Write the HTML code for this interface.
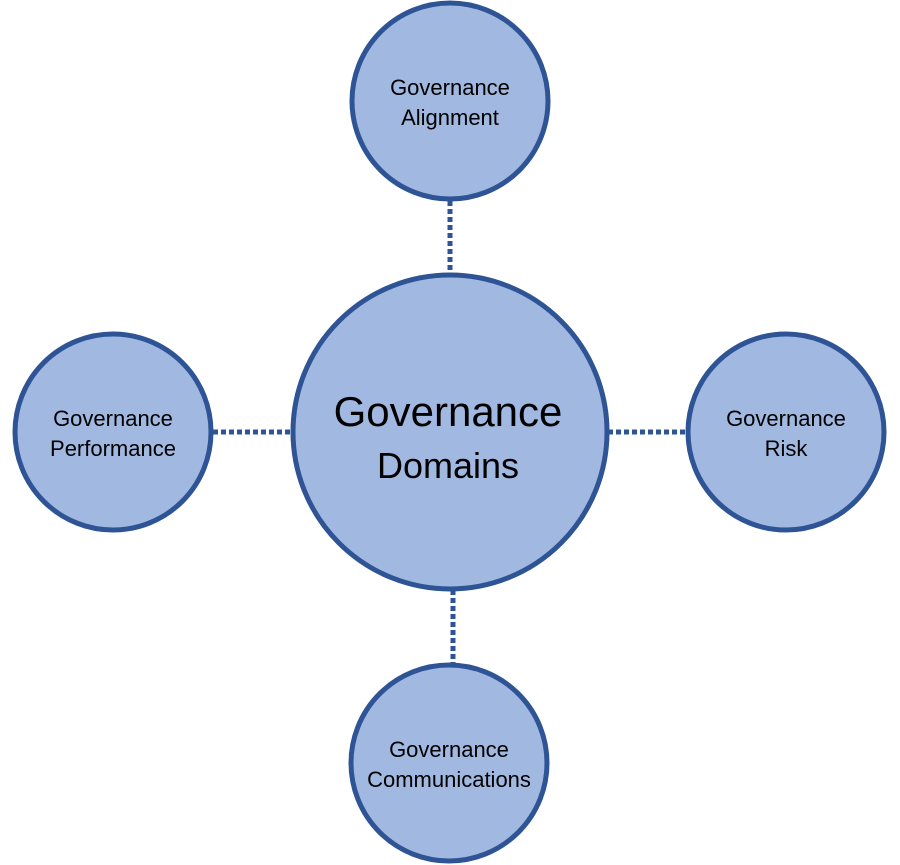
<!DOCTYPE html>
<html><head><meta charset="utf-8"><style>
html,body{margin:0;padding:0;background:#fff;width:900px;height:865px;overflow:hidden}
text{font-family:"Liberation Sans Narrow","Liberation Sans",sans-serif;fill:#000}
</style></head><body>
<svg width="900" height="865" viewBox="0 0 900 865" xmlns="http://www.w3.org/2000/svg">
<g stroke="#2f5496" stroke-width="5" stroke-dasharray="5,3" fill="none">
<line x1="450" y1="201" x2="450" y2="275"/>
<line x1="213" y1="432" x2="292" y2="432"/>
<line x1="608" y1="432" x2="686" y2="432"/>
<line x1="453" y1="590" x2="453" y2="663"/>
</g>
<g fill="#a1b8e1" stroke="#2f5496" stroke-width="5">
<circle cx="450" cy="101" r="98"/>
<circle cx="450" cy="432" r="157"/>
<circle cx="113" cy="432" r="98"/>
<circle cx="786" cy="432" r="98"/>
<circle cx="449" cy="763" r="98"/>
</g>
<g font-size="22" text-anchor="middle">
<text x="450" y="95">Governance</text><text x="450" y="125">Alignment</text>
<text x="113" y="426">Governance</text><text x="113" y="456">Performance</text>
<text x="786" y="426">Governance</text><text x="786" y="456">Risk</text>
<text x="449" y="757">Governance</text><text x="449" y="787">Communications</text>
</g>
<g font-size="42" text-anchor="middle">
<text x="448" y="426">Governance</text>
<text x="448" y="478" font-size="36">Domains</text>
</g>
</svg>
</body></html>
